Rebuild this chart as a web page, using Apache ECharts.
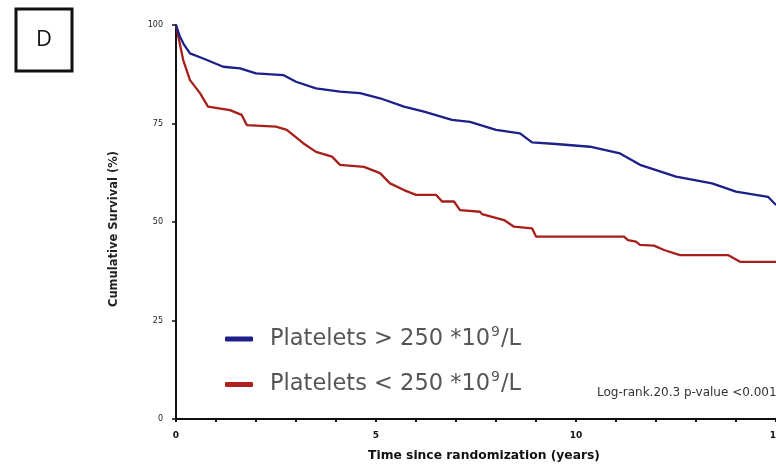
<!DOCTYPE html>
<html><head><meta charset="utf-8">
<script src="https://cdn.jsdelivr.net/npm/echarts@6/dist/echarts.min.js"></script>
<style>html,body{margin:0;padding:0;background:#fff}#c{width:776px;height:466px}</style>
</head><body><div id="c"></div>
<script>
const xTickLabels = ['0','5','10','15'];
const yTickLabels = ['0','25','50','75','100'];
const seriesNames = ['Platelets > 250 *10^9/L', 'Platelets < 250 *10^9/L'];
// [time (years), cumulative survival (%)]
const highPlatelets = [
  [0,100],[0.1,97],[0.2,95],[0.35,92.8],[0.68,91.5],[1.18,89.4],[1.6,89.0],[2.0,87.7],[2.68,87.3],
  [3.0,85.6],[3.5,83.9],[4.1,83.1],[4.6,82.7],[5.1,81.4],[5.7,79.3],[6.2,78.0],[6.9,75.9],
  [7.35,75.4],[8.0,73.4],[8.6,72.5],[8.9,70.2],[9.5,69.8],[10.35,69.1],[11.1,67.4],[11.6,64.5],
  [12.5,61.5],[13.4,59.8],[14.0,57.7],[14.8,56.4],[15.0,54.3]
];
const lowPlatelets = [
  [0,100],[0.08,96],[0.18,91.1],[0.35,86.0],[0.6,82.7],[0.8,79.3],[1.35,78.4],[1.64,77.2],
  [1.77,74.6],[2.5,74.2],[2.77,73.4],[3.18,70.0],[3.5,67.8],[3.9,66.6],[4.1,64.5],[4.7,64.0],
  [5.1,62.4],[5.35,59.8],[5.7,58.1],[6.0,56.9],[6.5,56.9],[6.65,55.2],[6.95,55.2],[7.1,53.0],
  [7.6,52.6],[7.65,52.0],[8.2,50.5],[8.45,48.8],[8.9,48.4],[9.0,46.3],[11.2,46.3],[11.3,45.4],
  [11.5,45.0],[11.6,44.2],[11.95,44.0],[12.2,42.9],[12.6,41.6],[13.8,41.6],[14.1,39.9],[15.0,39.9]
];
const chart = echarts.init(document.getElementById('c'), null, {renderer:'canvas'});
const fam = 'DejaVu Sans, Liberation Sans, sans-serif';
function legendText(name){
  const parts = name.split('^');
  const rest = parts[1];
  return '{a|' + parts[0] + '}{s|' + rest.charAt(0) + '}{b|' + rest.slice(1) + '}';
}
chart.setOption({
  animation:false,
  backgroundColor:'#fff',
  grid:{left:176, right:0, top:25, bottom:47, containLabel:false, outerBoundsMode:'none'},
  xAxis:{
    type:'value', min:0, max:15, interval:1,
    name:'Time since randomization (years)', nameLocation:'middle', nameGap:31,
    nameTextStyle:{fontFamily:fam, fontSize:12.3, fontWeight:'bold', color:'#111', padding:[0,0,0,16]},
    axisLine:{show:true, lineStyle:{color:'#111', width:2}},
    axisTick:{show:true, length:3, lineStyle:{color:'#111', width:2}},
    axisLabel:{fontFamily:fam, fontSize:9, fontWeight:'bold', color:'#111', margin:12, hideOverlap:false,
      showMaxLabel:true, showMinLabel:true,
      formatter:function(v){ const s = String(v); return xTickLabels.indexOf(s)>=0 ? s : ''; }},
    splitLine:{show:false}
  },
  yAxis:{
    type:'value', min:0, max:100, interval:25,
    name:'Cumulative Survival (%)', nameLocation:'middle', nameGap:56,
    nameTextStyle:{fontFamily:fam, fontSize:11.5, fontWeight:'bold', color:'#222', padding:[0,14,0,0]},
    axisLine:{show:true, lineStyle:{color:'#111', width:2}},
    axisTick:{show:true, length:4, lineStyle:{color:'#111', width:1.5}},
    axisLabel:{fontFamily:fam, fontSize:8, color:'#222', margin:13,
      formatter:function(v){ const s=String(v); return yTickLabels.indexOf(s)>=0 ? s : ''; }},
    splitLine:{show:false}
  },
  legend:{
    orient:'vertical', left:220, top:320, itemWidth:28, itemHeight:5, itemGap:20,
    icon:'roundRect',
    data:seriesNames,
    formatter:legendText,
    textStyle:{fontFamily:fam, color:'#555',
      rich:{a:{fontFamily:fam, fontSize:22.5, color:'#555', lineHeight:28, padding:[0,0,0,12]},
            b:{fontFamily:fam, fontSize:22.5, color:'#555', lineHeight:28},
            s:{fontFamily:fam, fontSize:14, color:'#555', lineHeight:14, verticalAlign:'top', padding:[0,1,0,1]}}},
    selectedMode:false
  },
  graphic:[
    {type:'rect', shape:{x:16, y:9, width:56, height:62}, style:{fill:'#fff', stroke:'#111', lineWidth:3}},
    {type:'text', x:44, y:40, style:{text:'D', fontFamily:'Open Sans, Liberation Sans, sans-serif', fontSize:22, fill:'#111', align:'center', verticalAlign:'middle'}},
    {type:'text', x:597, y:393, style:{text:'Log-rank.20.3 p-value <0.001', fontFamily:fam, fontSize:12, fill:'#333', verticalAlign:'middle'}}
  ],
  series:[
    {name:seriesNames[0], type:'line', data:highPlatelets, showSymbol:false, color:'#1d1f8a',
      lineStyle:{width:2.3, color:'#1d1f8a'}, z:3},
    {name:seriesNames[1], type:'line', data:lowPlatelets, showSymbol:false, color:'#b0201d',
      lineStyle:{width:2.3, color:'#a81e1b'}, z:2}
  ]
});
</script></body></html>
